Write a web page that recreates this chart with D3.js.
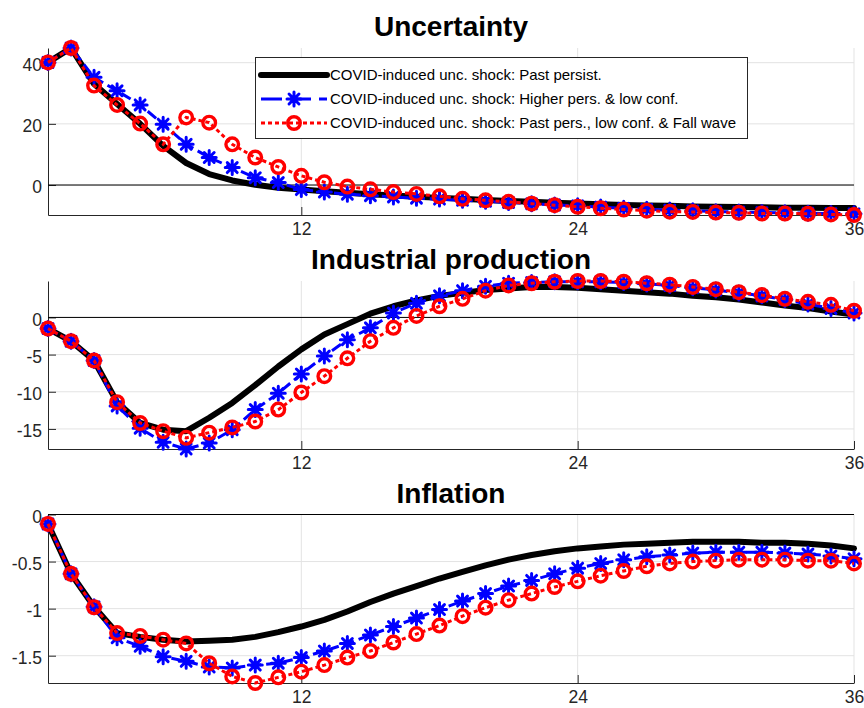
<!DOCTYPE html>
<html>
<head>
<meta charset="utf-8">
<script src="https://cdn.jsdelivr.net/npm/d3@7"></script>
<style>
  html, body { margin: 0; padding: 0; background: #fff; }
  svg { display: block; font-family: "Liberation Sans", Arial, Helvetica, sans-serif; }
</style>
</head>
<body>
<svg id="chart" width="864" height="708"></svg>
<script>
// Horizon (months after the shock)
const months = [1,2,3,4,5,6,7,8,9,10,11,12,13,14,15,16,17,18,19,20,21,22,23,24,25,26,27,28,29,30,31,32,33,34,35,36];
const xTicks = [12, 24, 36];

// Uncertainty responses
const uncPast = [40.1,44.8,33.0,26.5,20.0,12.8,7.2,3.6,1.5,0.1,-0.9,-1.5,-2.0,-2.5,-3.0,-3.4,-3.8,-4.2,-4.5,-4.9,-5.2,-5.5,-5.8,-6.0,-6.3,-6.5,-6.7,-6.8,-7.0,-7.1,-7.2,-7.3,-7.4,-7.4,-7.5,-7.5];
const uncHigh = [40.1,44.8,35.2,30.8,26.2,19.9,13.3,9.0,5.7,2.4,0.8,-1.5,-2.3,-3.0,-3.5,-3.9,-4.3,-4.6,-5.0,-5.3,-5.7,-6.1,-6.5,-6.8,-7.2,-7.6,-7.9,-8.2,-8.4,-8.7,-8.8,-9.0,-9.1,-9.2,-9.3,-9.4];
const uncFall = [40.1,44.8,32.5,26.2,20.1,13.3,22.1,20.4,13.3,9.0,5.9,3.0,0.9,-0.5,-1.4,-2.3,-2.9,-3.7,-4.5,-5.0,-5.5,-6.1,-6.6,-7.1,-7.6,-8.0,-8.4,-8.7,-8.8,-9.0,-9.1,-9.3,-9.3,-9.4,-9.6,-9.8];
const uncTicks = [0, 20, 40];

// Industrial production responses
const ipPast = [-1.5,-3.2,-5.8,-11.4,-14.2,-15.1,-15.3,-13.5,-11.5,-9.1,-6.6,-4.3,-2.3,-0.9,0.5,1.5,2.3,2.9,3.3,3.7,3.9,4.1,4.1,4.0,3.8,3.6,3.4,3.2,2.9,2.7,2.4,2.0,1.6,1.25,0.8,0.4];
const ipHigh = [-1.5,-3.2,-5.8,-11.9,-14.9,-16.8,-17.7,-16.9,-15.1,-12.4,-10.2,-7.6,-5.2,-3.0,-1.4,0.6,1.9,2.9,3.6,4.2,4.6,4.7,4.8,4.8,4.8,4.7,4.5,4.3,4.0,3.7,3.3,2.9,2.4,1.8,1.2,0.6];
const ipFall = [-1.5,-3.2,-5.8,-11.4,-14.2,-15.3,-16.2,-15.5,-14.8,-14.0,-12.4,-10.1,-7.9,-5.5,-3.2,-1.4,0.2,1.5,2.5,3.6,4.3,4.6,4.8,4.9,4.9,4.8,4.6,4.4,4.1,3.8,3.4,3.0,2.5,2.1,1.7,0.9];
const ipTicks = [-15, -10, -5, 0];

// Inflation responses
const infPast = [-0.10,-0.63,-0.98,-1.26,-1.30,-1.33,-1.35,-1.34,-1.33,-1.30,-1.25,-1.19,-1.12,-1.03,-0.93,-0.84,-0.76,-0.68,-0.61,-0.54,-0.48,-0.43,-0.39,-0.36,-0.34,-0.32,-0.31,-0.30,-0.29,-0.29,-0.29,-0.30,-0.30,-0.31,-0.33,-0.36];
const infHigh = [-0.10,-0.63,-0.98,-1.31,-1.40,-1.51,-1.56,-1.62,-1.63,-1.60,-1.58,-1.52,-1.45,-1.37,-1.28,-1.19,-1.10,-1.01,-0.92,-0.84,-0.76,-0.70,-0.63,-0.57,-0.52,-0.48,-0.45,-0.43,-0.41,-0.40,-0.40,-0.40,-0.41,-0.42,-0.44,-0.47];
const infFall = [-0.10,-0.63,-0.985,-1.26,-1.29,-1.33,-1.37,-1.58,-1.72,-1.79,-1.73,-1.67,-1.60,-1.52,-1.45,-1.36,-1.27,-1.18,-1.08,-0.99,-0.91,-0.84,-0.77,-0.71,-0.65,-0.60,-0.55,-0.52,-0.50,-0.49,-0.48,-0.48,-0.48,-0.49,-0.49,-0.52];
const infTicks = [-1.5, -1, -0.5, 0];

const seriesNames = [
  "COVID-induced unc. shock: Past persist.",
  "COVID-induced unc. shock: Higher pers. & low conf.",
  "COVID-induced unc. shock: Past pers., low conf. & Fall wave"
];

const panels = [
  { title: "Uncertainty", top: 48, bottom: 215, series: [uncPast, uncHigh, uncFall], ticks: uncTicks },
  { title: "Industrial production", top: 281, bottom: 449, series: [ipPast, ipHigh, ipFall], ticks: ipTicks },
  { title: "Inflation", top: 514.5, bottom: 683, series: [infPast, infHigh, infFall], ticks: infTicks }
];

const svg = d3.select("#chart");
const left = 48, right = 854;
const axisColor = "#262626";
const gridColor = "#e3e3e3";

const x = d3.scaleLinear().domain([1, 36]).range([left, right]);

// Draws an asterisk marker (plus + cross) centred at (cx, cy)
function asterisk(g, cx, cy, r) {
  const d = r * Math.SQRT1_2;
  const path = `M${cx - r},${cy}L${cx + r},${cy}M${cx},${cy - r}L${cx},${cy + r}` +
               `M${cx - d},${cy - d}L${cx + d},${cy + d}M${cx - d},${cy + d}L${cx + d},${cy - d}`;
  g.append("path").attr("d", path).attr("stroke", "#0000ff").attr("stroke-width", 3)
    .attr("stroke-linecap", "round").attr("fill", "none");
}

panels.forEach(p => {
  const all = p.series.flat().concat([0]);
  const y = d3.scaleLinear().domain(d3.extent(all)).range([p.bottom, p.top]);
  const g = svg.append("g");

  // grid
  g.selectAll(".gy").data(p.ticks).join("line")
    .attr("x1", left).attr("x2", right)
    .attr("y1", d => y(d)).attr("y2", d => y(d))
    .attr("stroke", gridColor).attr("stroke-width", 1);
  g.selectAll(".gx").data(xTicks).join("line")
    .attr("x1", d => x(d)).attr("x2", d => x(d))
    .attr("y1", p.top).attr("y2", p.bottom)
    .attr("stroke", gridColor).attr("stroke-width", 1);

  // axes
  const ya = g.append("g").attr("transform", `translate(${left},0)`)
    .call(d3.axisLeft(y).tickValues(p.ticks).tickSizeInner(-8).tickSizeOuter(0)
      .tickPadding(6).tickFormat(d => String(d)));
  const xa = g.append("g").attr("transform", `translate(0,${p.bottom})`)
    .call(d3.axisBottom(x).tickValues(xTicks).tickSizeInner(-8).tickSizeOuter(0)
      .tickPadding(8).tickFormat(d => String(d)));
  [ya, xa].forEach(a => {
    a.selectAll("path.domain").attr("stroke", axisColor).attr("stroke-width", 1);
    a.selectAll(".tick line").attr("stroke", axisColor).attr("stroke-width", 1);
    a.selectAll(".tick text").attr("fill", axisColor).attr("font-size", 17.5)
      .attr("font-family", "'Liberation Sans', Arial, Helvetica, sans-serif");
  });
  ya.selectAll(".tick text").attr("dy", "0.45em");

  // zero line
  g.append("line").attr("x1", left).attr("x2", right)
    .attr("y1", y(0)).attr("y2", y(0))
    .attr("stroke", "#000").attr("stroke-width", 1);

  // title
  g.append("text").attr("x", (left + right) / 2).attr("y", p.top - 12)
    .attr("text-anchor", "middle").attr("font-size", 28).attr("font-weight", "bold")
    .attr("fill", "#000").text(p.title);

  const line = d3.line().x((d, i) => x(months[i])).y(d => y(d));

  // past persistence: thick black
  g.append("path").datum(p.series[0]).attr("d", line)
    .attr("fill", "none").attr("stroke", "#000").attr("stroke-width", 6)
    .attr("stroke-linejoin", "round").attr("stroke-linecap", "round");

  // higher persistence: blue dashed with asterisks
  g.append("path").datum(p.series[1]).attr("d", line)
    .attr("fill", "none").attr("stroke", "#0000ff").attr("stroke-width", 3)
    .attr("stroke-dasharray", "11,5");
  const mb = g.append("g");
  p.series[1].forEach((v, i) => asterisk(mb, x(months[i]), y(v), 7));

  // fall wave: red dotted with circles
  g.append("path").datum(p.series[2]).attr("d", line)
    .attr("fill", "none").attr("stroke", "#ff0000").attr("stroke-width", 3)
    .attr("stroke-dasharray", "4,3");
  g.selectAll(".mr").data(p.series[2]).join("circle")
    .attr("cx", (d, i) => x(months[i])).attr("cy", d => y(d)).attr("r", 6.3)
    .attr("fill", "none").attr("stroke", "#ff0000").attr("stroke-width", 3.4);
});

// legend
const lg = svg.append("g");
lg.append("rect").attr("x", 255.5).attr("y", 57.5).attr("width", 492).attr("height", 81)
  .attr("fill", "#fff").attr("stroke", axisColor).attr("stroke-width", 1);
const rows = [75, 99, 123];
const lx0 = 261, lx1 = 327, lxm = 294;
lg.append("line").attr("x1", lx0).attr("x2", lx1).attr("y1", rows[0]).attr("y2", rows[0])
  .attr("stroke", "#000").attr("stroke-width", 6).attr("stroke-linecap", "round");
lg.append("line").attr("x1", lx0).attr("x2", lx1).attr("y1", rows[1]).attr("y2", rows[1])
  .attr("stroke", "#0000ff").attr("stroke-width", 3).attr("stroke-dasharray", "21,8");
asterisk(lg, lxm, rows[1], 7);
lg.append("line").attr("x1", lx0).attr("x2", lx1).attr("y1", rows[2]).attr("y2", rows[2])
  .attr("stroke", "#ff0000").attr("stroke-width", 3).attr("stroke-dasharray", "4,3");
lg.append("circle").attr("cx", lxm).attr("cy", rows[2]).attr("r", 6.3)
  .attr("fill", "none").attr("stroke", "#ff0000").attr("stroke-width", 3.4);
seriesNames.forEach((s, i) => {
  lg.append("text").attr("x", 330).attr("y", rows[i]).attr("dy", "0.35em")
    .attr("font-size", 15).attr("fill", "#000").text(s);
});
</script>
</body>
</html>
